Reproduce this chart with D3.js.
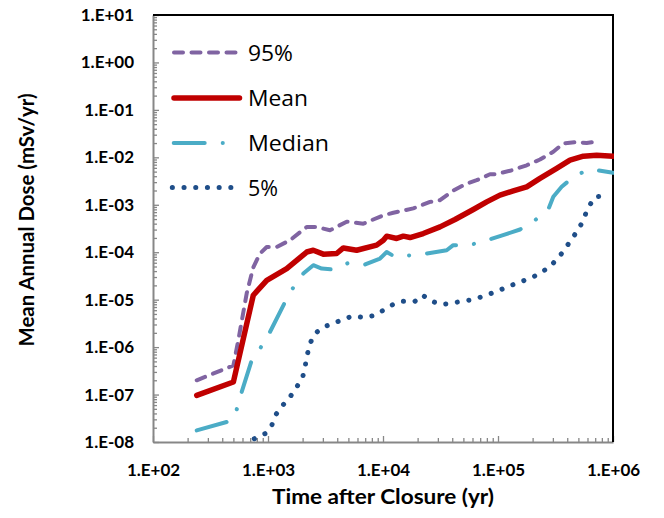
<!DOCTYPE html>
<html>
<head>
<meta charset="utf-8">
<script src="https://cdn.jsdelivr.net/npm/d3@7"></script>
<style>
  html, body { margin: 0; padding: 0; background: #fff; }
  svg { display: block; font-family: Lato, "Open Sans", "DejaVu Sans", sans-serif; }
</style>
</head>
<body>
<svg id="chart" width="664" height="518"></svg>
<script>
// Dose percentiles vs. time after closure (years, mSv/yr)
const timeP95 = [240, 500, 552, 653, 745, 852, 975, 1190, 1553, 2171, 2649, 3460, 4831, 6745,
  10070, 12300, 18340, 25640, 31330, 40830, 53450, 65270, 85180, 94150, 127000, 177700,
  231800, 302600, 369600, 483100, 590300, 744700];
const doseP95 = [2.0e-7, 4.1e-7, 1.4e-6, 1.36e-5, 4.8e-5, 9.4e-5, 1.29e-4, 1.29e-4, 1.79e-4,
  3.4e-4, 3.4e-4, 2.9e-4, 4.4e-4, 4.0e-4, 6.0e-4, 6.8e-4, 8.4e-4, 1.15e-3, 1.25e-3, 2.0e-3,
  2.8e-3, 3.3e-3, 4.4e-3, 4.4e-3, 5.2e-3, 6.8e-3, 9.0e-3, 1.31e-2, 1.96e-2, 2.1e-2, 2.0e-2, 2.2e-2];

const timeMean = [240, 500, 745, 975, 1455, 2171, 2477, 3027, 3955, 4519, 5902, 8810, 10070,
  10770, 13150, 15030, 17180, 22390, 31330, 42270, 60990, 79730, 104000, 135800, 177700,
  231800, 323900, 422500, 552500, 721000, 1000000];
const doseMean = [9.6e-8, 1.84e-7, 1.24e-5, 2.56e-5, 4.5e-5, 1.01e-4, 1.10e-4, 9.1e-5, 9.4e-5,
  1.23e-4, 1.10e-4, 1.41e-4, 1.79e-4, 2.18e-4, 1.95e-4, 2.18e-4, 2.04e-4, 2.48e-4, 3.42e-4,
  4.9e-4, 7.96e-4, 1.15e-3, 1.60e-3, 1.96e-3, 2.39e-3, 3.59e-3, 5.83e-3, 8.73e-3, 1.06e-2,
  1.11e-2, 1.06e-2];

const timeMedian = [240, 468, 500, 541, 590, 721, 881, 1040, 1406, 1660, 2028, 2477, 2930, 3698,
  4989, 6970, 9419, 10770, 12710, 17780, 23990, 35810, 40830, 56230, 77090, 104000, 155300,
  209700, 273600, 302600, 357800, 446300, 590300, 721000, 1000000];
const doseMedian = [1.76e-8, 2.76e-8, 3.0e-8, 5.3e-8, 1.13e-7, 5.27e-7, 1.05e-6, 2.08e-6, 8.9e-6,
  1.80e-5, 3.56e-5, 5.32e-5, 4.53e-5, 4.32e-5, 5.94e-5, 5.5e-5, 7.36e-5, 1.01e-4, 8.0e-5,
  8.65e-5, 9.39e-5, 1.10e-4, 1.41e-4, 1.41e-4, 1.73e-4, 2.18e-4, 3.01e-4, 4.73e-4, 7.96e-4,
  1.47e-3, 2.39e-3, 3.77e-3, 5.37e-3, 5.37e-3, 4.71e-3];

const timeP05 = [760, 942, 1077, 1174, 1343, 1553, 1778, 2004, 2098, 2197, 2317, 2564, 3027,
  3698, 4467, 5517, 6877, 8511, 10260, 12300, 15030, 18970, 22130, 26500, 32360, 40360, 48310,
  60200, 74500, 94150, 135800, 203000, 283100, 357800, 451900, 534300, 609600, 697000, 797400,
  851800];
const doseP05 = [1.17e-8, 1.50e-8, 2.24e-8, 3.82e-8, 5.92e-8, 8.85e-8, 1.44e-7, 2.34e-7, 3.8e-7,
  6.95e-7, 1.19e-6, 1.93e-6, 2.65e-6, 3.13e-6, 3.86e-6, 4.53e-6, 4.19e-6, 4.69e-6, 6.18e-6,
  8.0e-6, 9.25e-6, 9.25e-6, 1.24e-5, 9.25e-6, 7.89e-6, 8.51e-6, 9.25e-6, 1.0e-5, 1.18e-5,
  1.45e-5, 2.08e-5, 3.01e-5, 4.9e-5, 9.39e-5, 2.10e-4, 4.03e-4, 8.78e-4, 1.47e-3, 1.52e-3,
  1.43e-3];

const seriesNames = ["95%", "Mean", "Median", "5%"];
const xTickValues = [1e2, 1e3, 1e4, 1e5, 1e6];
const yTickValues = [1e-8, 1e-7, 1e-6, 1e-5, 1e-4, 1e-3, 1e-2, 1e-1, 1e0, 1e1];
const xTitle = "Time after Closure (yr)";
const yTitle = "Mean Annual Dose (mSv/yr)";

// ---- layout & styles ----
const plot = { left: 153, right: 613, top: 15, bottom: 442 };
const styles = [
  { color: "#8064A2", width: 4,   dash: "9,8.5",          cap: "round" },
  { color: "#C00000", width: 5.5, dash: null,             cap: "round" },
  { color: "#4BACC6", width: 4,   dash: "31,18,0.1,18",   cap: "round" },
  { color: "#1F4E89", width: 5,   dash: "0.1,11.6",       cap: "round" }
];
const axisGrey = "#878787";

const svg = d3.select("#chart");

const x = d3.scaleLog().domain([1e2, 1e6]).range([plot.left, plot.right]);
const y = d3.scaleLog().domain([1e-8, 1e1]).range([plot.bottom, plot.top]);

// "1.E+02" style labels
const sci = v => {
  const e = Math.round(Math.log10(v));
  const s = e < 0 ? "-" : "+";
  return "1.E" + s + String(Math.abs(e)).padStart(2, "0");
};

// stretch text horizontally to a target width
function fitWidth(sel, w) {
  sel.attr("textLength", w).attr("lengthAdjust", "spacingAndGlyphs");
}

// minor ticks (2..9 within each decade)
function minorTicks(domain) {
  const out = [];
  const lo = Math.round(Math.log10(domain[0])), hi = Math.round(Math.log10(domain[1]));
  for (let e = lo; e < hi; e++) for (let m = 2; m <= 9; m++) out.push(m * Math.pow(10, e));
  return out;
}

// ---- axes ----
const gx = svg.append("g").attr("transform", `translate(0,${plot.bottom})`);
gx.append("g")
  .call(d3.axisBottom(x).tickValues(minorTicks(x.domain())).tickSize(-4).tickSizeOuter(0).tickFormat(""))
  .call(g => g.select(".domain").remove());
gx.append("g")
  .call(d3.axisBottom(x).tickValues(xTickValues).tickSize(-6).tickSizeOuter(0).tickFormat(sci).tickPadding(22))
  .call(g => g.select(".domain").attr("stroke", axisGrey).attr("stroke-width", 2));
gx.selectAll("line").attr("stroke", axisGrey).attr("stroke-width", 1.3);
gx.selectAll("text")
  .attr("fill", "#000").attr("font-size", 17).attr("font-weight", "bold")
  .attr("font-family", "Lato, sans-serif");

const gy = svg.append("g").attr("transform", `translate(${plot.left},0)`);
gy.append("g")
  .call(d3.axisLeft(y).tickValues(minorTicks(y.domain())).tickSize(-4).tickSizeOuter(0).tickFormat(""))
  .call(g => g.select(".domain").remove());
gy.append("g")
  .call(d3.axisLeft(y).tickValues(yTickValues).tickSize(-6).tickSizeOuter(0).tickFormat(sci).tickPadding(19))
  .call(g => g.select(".domain").attr("stroke", axisGrey).attr("stroke-width", 2));
gy.selectAll("line").attr("stroke", axisGrey).attr("stroke-width", 1.3);
gy.selectAll("text")
  .attr("fill", "#000").attr("font-size", 17).attr("font-weight", "bold")
  .attr("font-family", "Lato, sans-serif");

// top & right frame
svg.append("path")
  .attr("d", `M${plot.left},${plot.top}H${plot.right}V${plot.bottom}`)
  .attr("fill", "none").attr("stroke", "#000").attr("stroke-width", 2);

// axis titles
svg.append("text")
  .attr("x", (plot.left + plot.right) / 2).attr("y", 504)
  .attr("text-anchor", "middle").attr("font-size", 21).attr("font-weight", "bold")
  .text(xTitle).call(fitWidth, 222);
svg.append("text")
  .attr("transform", "translate(34,220) rotate(-90)")
  .attr("text-anchor", "middle").attr("font-size", 21).attr("font-weight", "bold")
  .text(yTitle).call(fitWidth, 253);

// ---- series ----
const data = [
  d3.zip(timeP95, doseP95),
  d3.zip(timeMean, doseMean),
  d3.zip(timeMedian, doseMedian),
  d3.zip(timeP05, doseP05)
];

svg.append("clipPath").attr("id", "plotClip")
  .append("rect")
  .attr("x", plot.left).attr("y", plot.top - 4)
  .attr("width", plot.right - plot.left + 1).attr("height", plot.bottom - plot.top + 4);

const line = d3.line().x(d => x(d[0])).y(d => y(d[1]));

svg.append("g").attr("clip-path", "url(#plotClip)")
  .selectAll("path").data(data).join("path")
  .attr("d", line)
  .attr("fill", "none")
  .attr("stroke", (d, i) => styles[i].color)
  .attr("stroke-width", (d, i) => styles[i].width)
  .attr("stroke-dasharray", (d, i) => styles[i].dash)
  .attr("stroke-linecap", (d, i) => styles[i].cap)
  .attr("stroke-linejoin", "round");

// ---- legend ----
const legendRows = [52.5, 98, 143, 187.5];
const legendSeg = [[174, 235.5], [174, 239.5], [173.7, 222.8], [172.3, 231]];
const legendTextW = [45, 60, 81, 30];
const legend = svg.append("g");
seriesNames.forEach((name, i) => {
  const s = styles[i];
  legend.append("line")
    .attr("x1", legendSeg[i][0]).attr("x2", legendSeg[i][1])
    .attr("y1", legendRows[i]).attr("y2", legendRows[i])
    .attr("stroke", s.color).attr("stroke-width", s.width)
    .attr("stroke-dasharray", s.dash).attr("stroke-linecap", s.cap);
  legend.append("text")
    .attr("x", 248).attr("y", legendRows[i] + 8)
    .attr("font-size", 22).attr("fill", "#000")
    .attr("font-family", "'Open Sans', sans-serif")
    .text(name).call(fitWidth, legendTextW[i]);
});
</script>
</body>
</html>
